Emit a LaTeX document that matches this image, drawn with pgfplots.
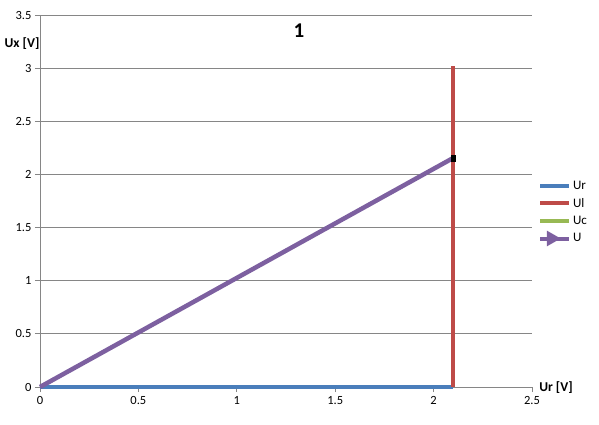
\documentclass[border=0pt]{standalone}
\usepackage{pgfplots}
\pgfplotsset{compat=1.18}
\usepackage{fontspec}
\setmainfont{Carlito}
\usetikzlibrary{arrows.meta}
\definecolor{cUr}{HTML}{4A7EBB}
\definecolor{cUl}{HTML}{BE4B48}
\definecolor{cUc}{HTML}{98B954}
\definecolor{cU}{HTML}{7D60A0}
\definecolor{gridc}{HTML}{868686}
\begin{document}
\begin{tikzpicture}[x=1pt,y=1pt]
\path[use as bounding box] (0,0) rectangle (599,425);
\begin{axis}[
  at={(40pt,38pt)}, anchor=origin,
  scale only axis, width=492pt, height=372pt,
  xmin=0, xmax=2.5, ymin=0, ymax=3.5,
  xtick={0,0.5,...,2.5}, ytick={0,0.5,...,3.5},
  xticklabels={0,0.5,1,1.5,2,2.5},
  yticklabels={0,0.5,1,1.5,2,2.5,3,3.5},
  axis x line=bottom, axis y line=left,
  axis line style={gridc, line width=0.8pt, -},
  ymajorgrids, major grid style={gridc, line width=0.8pt},
  tick style={gridc, line width=0.8pt},
  major tick length=5pt, tick align=outside,
  tick label style={font=\fontsize{12.5}{14}\selectfont, text=black},
  /pgf/number format/assume math mode=true,
  xticklabel style={yshift=-1pt},
  clip=false,
  legend style={draw=none, fill=none, at={(rel axis cs:1.012,0.560)}, anchor=north west,
    font=\fontsize{13}{14}\selectfont, row sep=3.5pt, inner sep=0pt},
  legend cell align=left,
  legend image code/.code={\draw[#1, line width=4pt] (0pt,0pt) -- (29pt,0pt);},
]
\addplot[cUr, line width=4pt] coordinates {(0,0) (2.1,0)};
\addlegendentry{Ur}
\addplot[cUl, line width=4pt] coordinates {(2.1,0) (2.1,3.02)};
\addlegendentry{Ul}
\addplot[cUc, line width=4pt] coordinates {(2.1,3.02) (2.1,3.02)};
\addlegendentry{Uc}
\addplot[cU, line width=4.5pt, legend image code/.code={\draw[cU, line width=4pt] (0pt,0pt) -- (29pt,0pt);\fill[cU] (9pt,-4pt) -- (16pt,0pt) -- (9pt,4pt) -- cycle;}] coordinates {(0,0) (2.095,2.15)};
\addlegendentry{U}
\addplot[only marks, mark=square*, mark options={black, xscale=0.7}, mark size=3.2pt, forget plot] coordinates {(2.1,2.15)};
\end{axis}
\node[font=\fontsize{21}{23}\selectfont\bfseries] at (299,394) {1};
\node[font=\fontsize{13.5}{15}\selectfont\bfseries] at (22,381) {Ux [V]};
\node[font=\fontsize{13.5}{15}\selectfont\bfseries] at (556,37) {Ur [V]};
\end{tikzpicture}
\end{document}
